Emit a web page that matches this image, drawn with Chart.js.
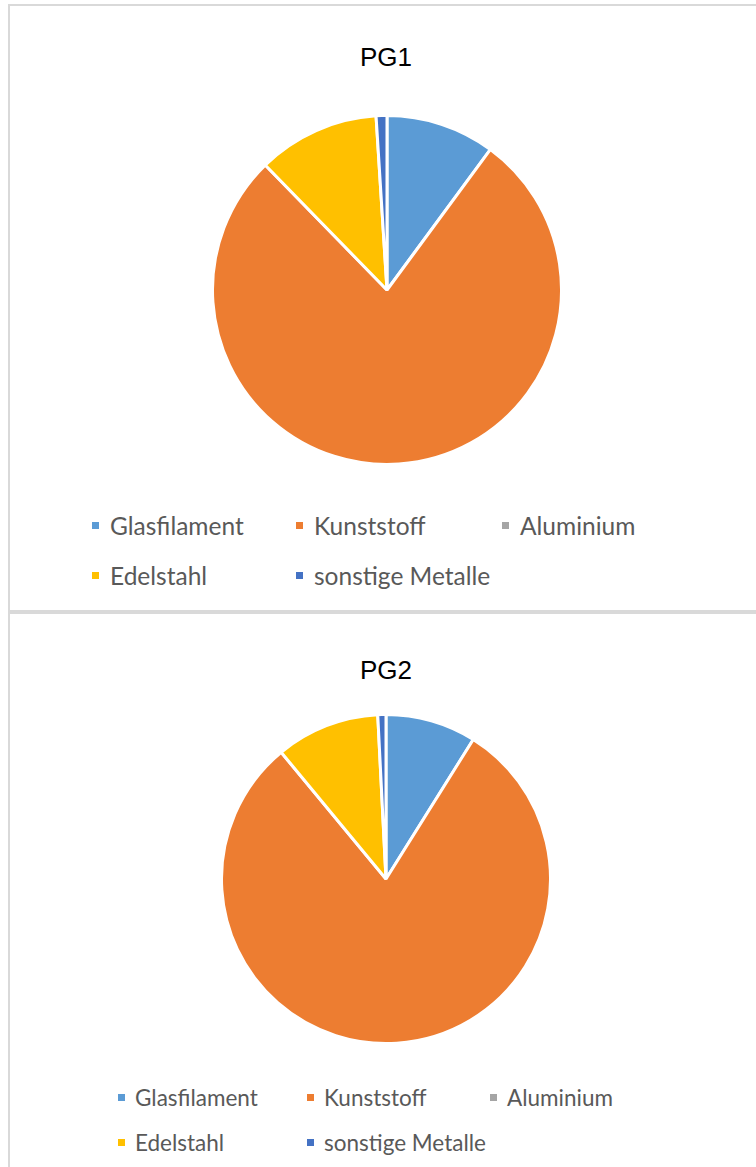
<!DOCTYPE html>
<html>
<head>
<meta charset="utf-8">
<script src="https://cdn.jsdelivr.net/npm/chart.js@4.4.0/dist/chart.umd.min.js"></script>
<style>
  body { margin: 0; background: #fff; width: 756px; height: 1167px; overflow: hidden; position: relative; }
  .panel { position: absolute; left: 8px; width: 820px; border: 2px solid #d9d9d9; background: #fff; }
  #panel1 { top: 4px; height: 604px; }
  #panel2 { top: 612px; height: 620px; }
  .title { position: absolute; left: 286px; width: 200px; text-align: center;
           font: 26px "Liberation Sans", Arial, sans-serif; color: #000; line-height: 30px; }
  .pie { position: absolute; }
  .legend { position: absolute; display: grid; font-family: Lato, "Open Sans", sans-serif; color: #595959; }
  .legend .item { display: flex; align-items: center; white-space: nowrap; }
  .legend .box { width: 7px; height: 7px; margin-right: 11px; flex: none; }
  #legend1 { left: 92px; top: 500px; grid-template-columns: 204px 206px 170px; grid-auto-rows: 50px; font-size: 24.5px; }
  #legend2 { left: 118px; top: 1075px; grid-template-columns: 189px 183px 170px; grid-auto-rows: 45px; font-size: 22.5px; }
  #legend2 .box { width: 7px; height: 7px; margin-right: 10px; }
</style>
</head>
<body>
<div class="panel" id="panel1"></div>
<div class="panel" id="panel2"></div>

<div class="title" style="top:42px">PG1</div>
<div class="pie" style="left:211px;top:114px"><canvas id="pg1" width="352" height="352"></canvas></div>
<div class="legend" id="legend1"></div>

<div class="title" style="top:655px">PG2</div>
<div class="pie" style="left:220px;top:713px"><canvas id="pg2" width="332" height="332"></canvas></div>
<div class="legend" id="legend2"></div>

<script>
// materials, in Excel order (clockwise from 12 o'clock)
const labels = ["Glasfilament", "Kunststoff", "Aluminium", "Edelstahl", "sonstige Metalle"];
// shares in percent
const pg1Values = [10.1, 77.6, 0, 11.3, 1.0];
const pg2Values = [8.9, 80.1, 0, 10.2, 0.8];
const colors = ["#5B9BD5", "#ED7D31", "#A5A5A5", "#FFC000", "#4472C4"];

function makePie(id, values) {
  const ctx = document.getElementById(id).getContext("2d");
  return new Chart(ctx, {
    type: "pie",
    data: {
      labels: labels,
      datasets: [{
        data: values,
        backgroundColor: colors,
        borderColor: "#ffffff",
        borderWidth: 3,
      }],
    },
    options: {
      responsive: false,
      animation: false,
      layout: { padding: 0 },
      plugins: {
        legend: { display: false },
        tooltip: { enabled: false },
      },
    },
  });
}

// legend drawn as html so the columns line up like in Excel
function buildLegend(chart, elId) {
  const el = document.getElementById(elId);
  const ds = chart.data.datasets[0];
  chart.data.labels.forEach((label, i) => {
    const item = document.createElement("div");
    item.className = "item";
    const box = document.createElement("span");
    box.className = "box";
    box.style.background = ds.backgroundColor[i];
    const txt = document.createElement("span");
    txt.textContent = label;
    item.appendChild(box);
    item.appendChild(txt);
    el.appendChild(item);
  });
}

const chart1 = makePie("pg1", pg1Values);
const chart2 = makePie("pg2", pg2Values);
buildLegend(chart1, "legend1");
buildLegend(chart2, "legend2");
</script>
</body>
</html>
